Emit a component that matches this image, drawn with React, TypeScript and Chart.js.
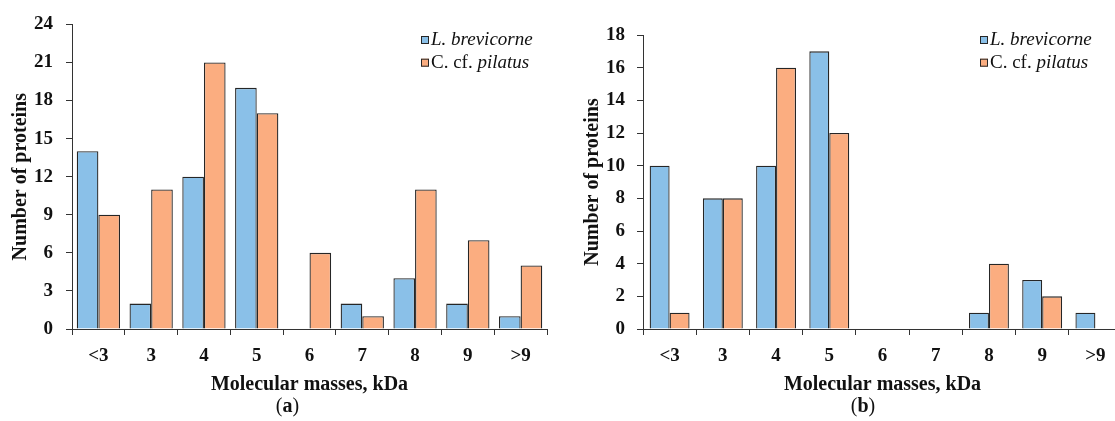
import React, { useEffect, useRef } from 'react';
import { Chart, registerables } from 'chart.js';

Chart.register(...registerables);

// ---- data ----
const categories = ['<3', '3', '4', '5', '6', '7', '8', '9', '>9'];
const aBrevicorne = [14, 2, 12, 19, 0, 2, 4, 2, 1];
const aPilatus = [9, 11, 21, 17, 6, 1, 11, 7, 5];
const bBrevicorne = [10, 8, 10, 17, 0, 0, 1, 3, 1];
const bPilatus = [1, 8, 16, 12, 0, 0, 4, 2, 0];
const aYMax = 24;
const aYStep = 3;
const bYMax = 18;
const bYStep = 2;
const xTitle = 'Molecular masses, kDa';
const yTitle = 'Number of proteins';
const seriesNames = ['L. brevicorne', 'C. cf. pilatus'];

// ---- styles ----
const BLUE = '#8AC0E8';
const ORANGE = '#FBAD80';
const EDGE = '#262626';
const AXIS = '#333333';
const TEXT = '#111111';
const FAMILY = '"Liberation Serif", "Times New Roman", serif';

const extrasPlugin = {
  id: 'extras',
  afterDraw(chart: any, _args: any, opts: any) {
    const ctx = chart.ctx as CanvasRenderingContext2D;
    ctx.save();
    const rows = [
      { color: BLUE, parts: [{ t: 'L. brevicorne', it: true }] },
      { color: ORANGE, parts: [{ t: 'C. cf. ', it: false }, { t: 'pilatus', it: true }] },
    ];
    rows.forEach((r, i) => {
      const cy = opts.legendY + i * opts.legendGap;
      const bx = opts.legendX;
      ctx.fillStyle = r.color;
      ctx.fillRect(bx, cy - 4, 8, 8);
      ctx.strokeStyle = EDGE;
      ctx.lineWidth = 1;
      ctx.strokeRect(bx + 0.5, cy - 3.5, 7, 7);
      let x = bx + 10;
      ctx.textBaseline = 'middle';
      ctx.textAlign = 'left';
      ctx.fillStyle = TEXT;
      r.parts.forEach((p) => {
        ctx.font = `${p.it ? 'italic ' : ''}19px ${FAMILY}`;
        ctx.fillText(p.t, x, cy);
        x += ctx.measureText(p.t).width;
      });
    });
    // caption "(a)" / "(b)"
    const parts = [
      { t: '(', b: false },
      { t: opts.caption, b: true },
      { t: ')', b: false },
    ];
    let total = 0;
    parts.forEach((p) => {
      ctx.font = `${p.b ? 'bold ' : ''}20px ${FAMILY}`;
      total += ctx.measureText(p.t).width;
    });
    let x = opts.captionX - total / 2;
    ctx.textBaseline = 'middle';
    parts.forEach((p) => {
      ctx.font = `${p.b ? 'bold ' : ''}20px ${FAMILY}`;
      ctx.fillText(p.t, x, opts.captionY);
      x += ctx.measureText(p.t).width;
    });
    ctx.restore();
  },
};

type PanelProps = {
  blue: number[];
  orange: number[];
  yMax: number;
  yStep: number;
  left: number;
  width: number;
  yWidth: number;
  padTop: number;
  padRight: number;
  yTitlePad: number;
  yTickPad: number;
  catPct: number;
  legendX: number;
  captionX: number;
  caption: string;
};

function Panel(p: PanelProps) {
  const ref = useRef<HTMLCanvasElement | null>(null);
  useEffect(() => {
    if (!ref.current) return;
    const tickFont = { family: FAMILY, size: 19, weight: 'bold' as const };
    const titleFont = { family: FAMILY, size: 20, weight: 'bold' as const };
    const chart = new Chart(ref.current, {
      type: 'bar',
      data: {
        labels: categories,
        datasets: [
          {
            label: seriesNames[0],
            data: p.blue,
            backgroundColor: BLUE,
            borderColor: EDGE,
            borderWidth: 1.3,
            barPercentage: 1,
            categoryPercentage: p.catPct,
          },
          {
            label: seriesNames[1],
            data: p.orange,
            backgroundColor: ORANGE,
            borderColor: EDGE,
            borderWidth: 1.3,
            barPercentage: 1,
            categoryPercentage: p.catPct,
          },
        ],
      },
      plugins: [extrasPlugin],
      options: {
        responsive: false,
        animation: false,
        layout: { padding: { left: 0, right: p.padRight, top: p.padTop, bottom: 0 } },
        plugins: {
          legend: { display: false },
          tooltip: { enabled: false },
          extras: {
            legendX: p.legendX,
            legendY: 40,
            legendGap: 22.7,
            captionX: p.captionX,
            captionY: 407,
            caption: p.caption,
          },
        } as any,
        scales: {
          x: {
            grid: {
              display: true,
              drawOnChartArea: false,
              drawTicks: true,
              tickLength: 6,
              color: AXIS,
              offset: true,
            },
            border: { display: true, color: AXIS, width: 1 },
            ticks: { font: tickFont, color: TEXT, padding: 10, maxRotation: 0 },
            title: {
              display: true,
              text: xTitle,
              font: titleFont,
              color: TEXT,
              padding: { top: 0, bottom: 24 },
            },
            afterFit: (s: any) => {
              s.height = 92;
            },
          },
          y: {
            min: 0,
            max: p.yMax,
            grid: {
              display: true,
              drawOnChartArea: false,
              drawTicks: true,
              tickLength: 6,
              color: AXIS,
            },
            border: { display: true, color: AXIS, width: 1 },
            ticks: { stepSize: p.yStep, font: tickFont, color: TEXT, padding: p.yTickPad },
            title: {
              display: true,
              text: yTitle,
              font: titleFont,
              color: TEXT,
              padding: { top: p.yTitlePad, bottom: 0 },
            },
            afterFit: (s: any) => {
              s.width = p.yWidth;
            },
          },
        },
      },
    });
    return () => chart.destroy();
  }, []);
  return (
    <canvas
      ref={ref}
      width={p.width}
      height={421}
      style={{ position: 'absolute', left: p.left, top: 0, width: p.width, height: 421 }}
    />
  );
}

export default function App() {
  return (
    <div
      style={{
        position: 'absolute',
        left: 0,
        top: 0,
        width: 1115,
        height: 421,
        overflow: 'hidden',
        background: '#ffffff',
      }}
    >
      <Panel
        blue={aBrevicorne}
        orange={aPilatus}
        yMax={aYMax}
        yStep={aYStep}
        left={0}
        width={560}
        yWidth={72}
        padTop={21}
        padRight={13}
        yTitlePad={9}
        yTickPad={13}
        catPct={0.82}
        legendX={421}
        captionX={287.5}
        caption="a"
      />
      <Panel
        blue={bBrevicorne}
        orange={bPilatus}
        yMax={bYMax}
        yStep={bYStep}
        left={560}
        width={562}
        yWidth={83}
        padTop={35}
        padRight={0}
        yTitlePad={21}
        yTickPad={12}
        catPct={0.75}
        legendX={420}
        captionX={303}
        caption="b"
      />
    </div>
  );
}
